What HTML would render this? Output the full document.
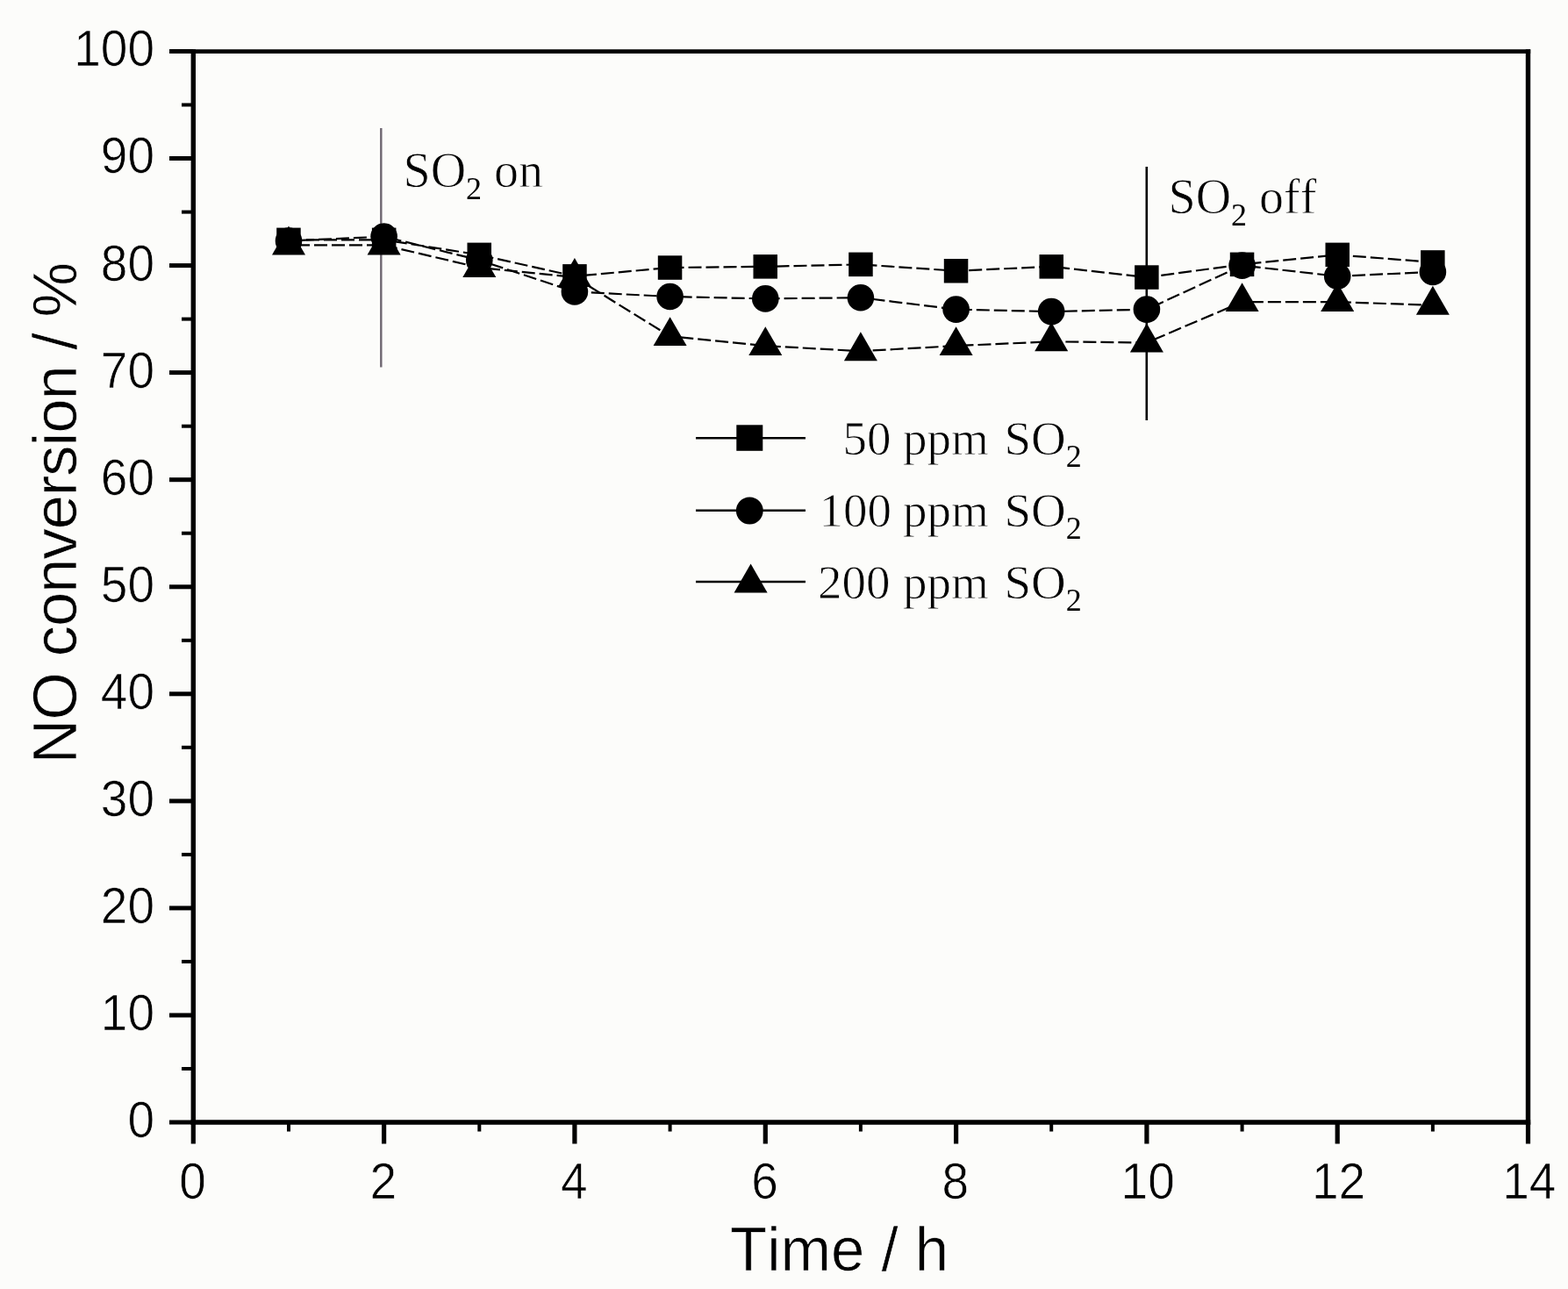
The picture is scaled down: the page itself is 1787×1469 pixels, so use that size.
<!DOCTYPE html><html><head><meta charset="utf-8"><title>NO conversion vs Time</title>
<style>html,body{margin:0;padding:0;background:#fcfcfa;}svg{display:block}text{font-variant-ligatures:none;font-kerning:none}.ax{font-family:"Liberation Sans",Arial,sans-serif;fill:#000;stroke:#fcfcfa;stroke-width:0.7px}.tm{font-family:"Liberation Serif","Times New Roman",serif;fill:#000;stroke:#fcfcfa;stroke-width:0.8px}.tm tspan.s{stroke:none}</style></head><body>
<svg width="1787" height="1469" viewBox="0 0 1787 1469">
<rect width="1787" height="1469" fill="#fcfcfa"/>
<polyline points="329.0,273.3 437.6,273.3 546.3,290.4 654.9,314.8 763.6,305.0 872.3,303.8 980.9,301.4 1089.6,308.7 1198.2,303.8 1306.9,316.0 1415.6,301.4 1524.2,290.4 1632.9,298.9" fill="none" stroke="#000" stroke-width="2.2" stroke-dasharray="15 5"/>
<polyline points="329.0,274.5 437.6,269.6 546.3,296.5 654.9,332.5 763.6,338.0 872.3,340.4 980.9,339.2 1089.6,352.6 1198.2,355.1 1306.9,352.6 1415.6,302.6 1524.2,314.8 1632.9,309.9" fill="none" stroke="#000" stroke-width="2.2" stroke-dasharray="15 5" stroke-dashoffset="6"/>
<polyline points="329.0,279.4 437.6,279.4 546.3,305.0 654.9,316.0 763.6,383.2 872.3,394.1 980.9,400.2 1089.6,394.1 1198.2,389.3 1306.9,390.5 1415.6,344.1 1524.2,344.1 1632.9,347.8" fill="none" stroke="#000" stroke-width="2.2" stroke-dasharray="15 5" stroke-dashoffset="11"/>
<line x1="434.3" y1="146" x2="434.3" y2="418.5" stroke="#6e6670" stroke-width="2.4"/>
<line x1="1306.8" y1="190" x2="1306.8" y2="479" stroke="#000" stroke-width="2.6"/>
<g fill="#000">
<polygon points="329.0,257.5 310.0,290.4 348.0,290.4"/>
<polygon points="437.6,257.5 418.6,290.4 456.6,290.4"/>
<polygon points="546.3,283.1 527.3,316.0 565.3,316.0"/>
<polygon points="654.9,294.1 635.9,327.0 673.9,327.0"/>
<polygon points="763.6,361.2 744.6,394.1 782.6,394.1"/>
<polygon points="872.3,372.2 853.3,405.1 891.3,405.1"/>
<polygon points="980.9,378.3 961.9,411.2 999.9,411.2"/>
<polygon points="1089.6,372.2 1070.6,405.1 1108.6,405.1"/>
<polygon points="1198.2,367.3 1179.2,400.2 1217.2,400.2"/>
<polygon points="1306.9,368.5 1287.9,401.4 1325.9,401.4"/>
<polygon points="1415.6,322.2 1396.6,355.1 1434.6,355.1"/>
<polygon points="1524.2,322.2 1505.2,355.1 1543.2,355.1"/>
<polygon points="1632.9,325.8 1613.9,358.7 1651.9,358.7"/>
<circle cx="329.0" cy="274.5" r="15.3"/>
<circle cx="437.6" cy="269.6" r="15.3"/>
<circle cx="546.3" cy="296.5" r="15.3"/>
<circle cx="654.9" cy="332.5" r="15.3"/>
<circle cx="763.6" cy="338.0" r="15.3"/>
<circle cx="872.3" cy="340.4" r="15.3"/>
<circle cx="980.9" cy="339.2" r="15.3"/>
<circle cx="1089.6" cy="352.6" r="15.3"/>
<circle cx="1198.2" cy="355.1" r="15.3"/>
<circle cx="1306.9" cy="352.6" r="15.3"/>
<circle cx="1415.6" cy="302.6" r="15.3"/>
<circle cx="1524.2" cy="314.8" r="15.3"/>
<circle cx="1632.9" cy="309.9" r="15.3"/>
<rect x="315.2" y="259.6" width="27.5" height="27.5"/>
<rect x="423.9" y="259.6" width="27.5" height="27.5"/>
<rect x="532.5" y="276.6" width="27.5" height="27.5"/>
<rect x="641.2" y="301.1" width="27.5" height="27.5"/>
<rect x="749.8" y="291.3" width="27.5" height="27.5"/>
<rect x="858.5" y="290.1" width="27.5" height="27.5"/>
<rect x="967.2" y="287.6" width="27.5" height="27.5"/>
<rect x="1075.8" y="295.0" width="27.5" height="27.5"/>
<rect x="1184.5" y="290.1" width="27.5" height="27.5"/>
<rect x="1293.1" y="302.3" width="27.5" height="27.5"/>
<rect x="1401.8" y="287.6" width="27.5" height="27.5"/>
<rect x="1510.5" y="276.6" width="27.5" height="27.5"/>
<rect x="1619.1" y="285.2" width="27.5" height="27.5"/>
</g>
<g stroke="#000" fill="none" stroke-linecap="butt">
<line x1="220.3" y1="56.2" x2="220.3" y2="1281.7" stroke-width="5.4"/>
<line x1="1741.5" y1="56.2" x2="1741.5" y2="1281.7" stroke-width="5.4"/>
<line x1="217.6" y1="58.6" x2="1744.2" y2="58.6" stroke-width="4.8"/>
<line x1="217.6" y1="1279.0" x2="1744.2" y2="1279.0" stroke-width="5.4"/>
<line x1="193" y1="1279.0" x2="220.3" y2="1279.0" stroke-width="5"/>
<line x1="193" y1="1157.0" x2="220.3" y2="1157.0" stroke-width="5"/>
<line x1="193" y1="1034.9" x2="220.3" y2="1034.9" stroke-width="5"/>
<line x1="193" y1="912.9" x2="220.3" y2="912.9" stroke-width="5"/>
<line x1="193" y1="790.8" x2="220.3" y2="790.8" stroke-width="5"/>
<line x1="193" y1="668.8" x2="220.3" y2="668.8" stroke-width="5"/>
<line x1="193" y1="546.7" x2="220.3" y2="546.7" stroke-width="5"/>
<line x1="193" y1="424.6" x2="220.3" y2="424.6" stroke-width="5"/>
<line x1="193" y1="302.6" x2="220.3" y2="302.6" stroke-width="5"/>
<line x1="193" y1="180.5" x2="220.3" y2="180.5" stroke-width="5"/>
<line x1="193" y1="58.5" x2="220.3" y2="58.5" stroke-width="5"/>
<line x1="207" y1="1218.0" x2="220.3" y2="1218.0" stroke-width="4"/>
<line x1="207" y1="1095.9" x2="220.3" y2="1095.9" stroke-width="4"/>
<line x1="207" y1="973.9" x2="220.3" y2="973.9" stroke-width="4"/>
<line x1="207" y1="851.8" x2="220.3" y2="851.8" stroke-width="4"/>
<line x1="207" y1="729.8" x2="220.3" y2="729.8" stroke-width="4"/>
<line x1="207" y1="607.7" x2="220.3" y2="607.7" stroke-width="4"/>
<line x1="207" y1="485.7" x2="220.3" y2="485.7" stroke-width="4"/>
<line x1="207" y1="363.6" x2="220.3" y2="363.6" stroke-width="4"/>
<line x1="207" y1="241.6" x2="220.3" y2="241.6" stroke-width="4"/>
<line x1="207" y1="119.5" x2="220.3" y2="119.5" stroke-width="4"/>
<line x1="220.3" y1="1279.0" x2="220.3" y2="1303.5" stroke-width="5.2"/>
<line x1="437.6" y1="1279.0" x2="437.6" y2="1303.5" stroke-width="5.2"/>
<line x1="654.9" y1="1279.0" x2="654.9" y2="1303.5" stroke-width="5.2"/>
<line x1="872.3" y1="1279.0" x2="872.3" y2="1303.5" stroke-width="5.2"/>
<line x1="1089.6" y1="1279.0" x2="1089.6" y2="1303.5" stroke-width="5.2"/>
<line x1="1306.9" y1="1279.0" x2="1306.9" y2="1303.5" stroke-width="5.2"/>
<line x1="1524.2" y1="1279.0" x2="1524.2" y2="1303.5" stroke-width="5.2"/>
<line x1="1741.5" y1="1279.0" x2="1741.5" y2="1303.5" stroke-width="5.2"/>
<line x1="329.0" y1="1279.0" x2="329.0" y2="1289.5" stroke-width="4"/>
<line x1="546.3" y1="1279.0" x2="546.3" y2="1289.5" stroke-width="4"/>
<line x1="763.6" y1="1279.0" x2="763.6" y2="1289.5" stroke-width="4"/>
<line x1="980.9" y1="1279.0" x2="980.9" y2="1289.5" stroke-width="4"/>
<line x1="1198.2" y1="1279.0" x2="1198.2" y2="1289.5" stroke-width="4"/>
<line x1="1415.6" y1="1279.0" x2="1415.6" y2="1289.5" stroke-width="4"/>
<line x1="1632.9" y1="1279.0" x2="1632.9" y2="1289.5" stroke-width="4"/>
</g>
<g class="ax" font-size="55" text-anchor="end">
<text transform="translate(176,1295.9) scale(1,1.05)">0</text>
<text transform="translate(176,1173.9) scale(1,1.05)">10</text>
<text transform="translate(176,1051.8) scale(1,1.05)">20</text>
<text transform="translate(176,929.8) scale(1,1.05)">30</text>
<text transform="translate(176,807.7) scale(1,1.05)">40</text>
<text transform="translate(176,685.6) scale(1,1.05)">50</text>
<text transform="translate(176,563.6) scale(1,1.05)">60</text>
<text transform="translate(176,441.5) scale(1,1.05)">70</text>
<text transform="translate(176,319.5) scale(1,1.05)">80</text>
<text transform="translate(176,197.4) scale(1,1.05)">90</text>
<text transform="translate(176,75.4) scale(1,1.05)">100</text>
</g>
<g class="ax" font-size="55" text-anchor="middle">
<text transform="translate(219.6,1365.5) scale(1,1.05)">0</text>
<text transform="translate(436.9,1365.5) scale(1,1.05)">2</text>
<text transform="translate(654.2,1365.5) scale(1,1.05)">4</text>
<text transform="translate(871.6,1365.5) scale(1,1.05)">6</text>
<text transform="translate(1088.9,1365.5) scale(1,1.05)">8</text>
<text transform="translate(1308.2,1365.5) scale(1,1.05)">10</text>
<text transform="translate(1525.5,1365.5) scale(1,1.05)">12</text>
<text transform="translate(1742.8,1365.5) scale(1,1.05)">14</text>
</g>
<text class="ax" font-size="69" transform="translate(832,1448) scale(1,1.03)">Time / h</text>
<text class="ax" font-size="70.5" letter-spacing="-1" transform="translate(87.3,870.6) rotate(-90)">NO conversion / %</text>
<text class="tm" font-size="56" x="459.5" y="213">SO<tspan class="s" font-size="36" dy="14">2</tspan><tspan dy="-14"> on</tspan></text>
<text class="tm" font-size="56" x="1331.5" y="243">SO<tspan class="s" font-size="36" dy="14">2</tspan><tspan dy="-14"> off</tspan></text>
<line x1="793" y1="499.3" x2="918" y2="499.3" stroke="#000" stroke-width="2.4"/>
<rect x="839.3" y="484.3" width="30" height="29.5"/>
<line x1="793" y1="581.7" x2="918" y2="581.7" stroke="#000" stroke-width="2.4"/>
<circle cx="854.3" cy="582.0" r="15.4"/>
<line x1="793" y1="663.0" x2="918" y2="663.0" stroke="#000" stroke-width="2.4"/>
<g fill="#000"><polygon points="855.6,642.6 836.6,675.5 874.6,675.5"/></g>
<text class="tm" font-size="55" x="960.5" y="517.8">50</text>
<text class="tm" font-size="55" x="1029" y="517.8">ppm</text>
<text class="tm" font-size="55" x="1144.5" y="517.8">SO<tspan class="s" font-size="36" dy="14">2</tspan></text>
<text class="tm" font-size="55" x="933.5" y="600.2">100</text>
<text class="tm" font-size="55" x="1029" y="600.2">ppm</text>
<text class="tm" font-size="55" x="1144.5" y="600.2">SO<tspan class="s" font-size="36" dy="14">2</tspan></text>
<text class="tm" font-size="55" x="932" y="681.5">200</text>
<text class="tm" font-size="55" x="1029" y="681.5">ppm</text>
<text class="tm" font-size="55" x="1144.5" y="681.5">SO<tspan class="s" font-size="36" dy="14">2</tspan></text>
</svg></body></html>
